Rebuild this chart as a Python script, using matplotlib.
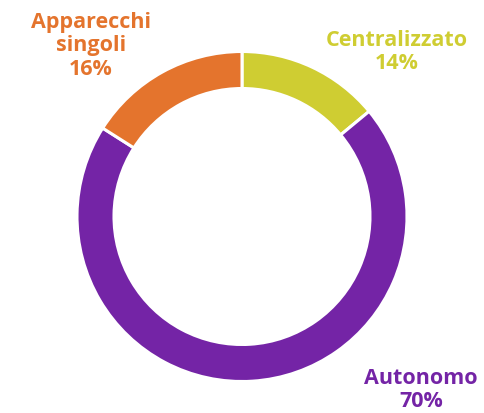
import matplotlib.pyplot as plt

labels = ["Centralizzato", "Autonomo", "Apparecchi\nsingoli"]
values = [14, 70, 16]
colors = ["#CFCD32", "#7424A6", "#E4742D"]

W, H = 485, 414
fig = plt.figure(figsize=(W / 100, H / 100), dpi=100)
ax = fig.add_axes([0, 0, 1, 1])

cx, cy = 242, H - 217.5
ax.pie(values, colors=colors, startangle=90, counterclock=False,
       center=(cx, cy), radius=165,
       wedgeprops=dict(width=37, edgecolor="white", linewidth=2.2))

ax.set_xlim(0, W)
ax.set_ylim(0, H)
ax.set_aspect("equal")
ax.axis("off")

# label positions in pixel coords (top-left origin)
label_pos = [(397, 52), (421, 390), (91, 46)]
for lab, v, c, (x, y) in zip(labels, values, colors, label_pos):
    ax.text(x, H - y, f"{lab}\n{v}%", ha="center", va="center",
            color=c, fontsize=15.5, fontweight="bold", family="Open Sans",
            linespacing=1.13)

fig.savefig("out.png", dpi=100)
